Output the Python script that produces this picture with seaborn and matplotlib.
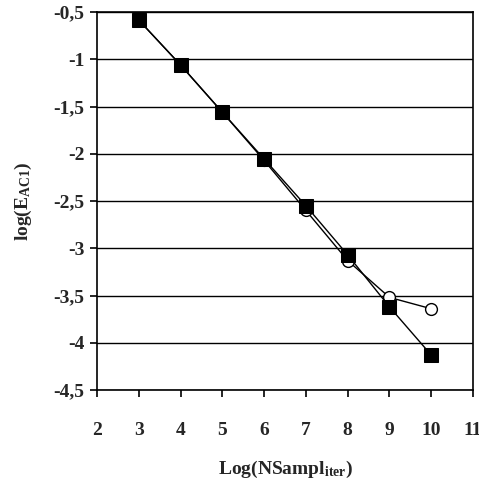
import matplotlib
matplotlib.use("Agg")
import matplotlib.pyplot as plt
import seaborn as sns
import pandas as pd

x_vals = [3, 4, 5, 6, 7, 8, 9, 10]
squares = [-0.585, -1.06, -1.56, -2.055, -2.55, -3.07, -3.62, -4.13]
circles = [-0.585, -1.06, -1.56, -2.07, -2.6, -3.13, -3.52, -3.64]
y_ticks = [-0.5, -1, -1.5, -2, -2.5, -3, -3.5, -4, -4.5]
x_ticks = [2, 3, 4, 5, 6, 7, 8, 9, 10, 11]

sns.set_theme(style="white")
plt.rcParams['font.family'] = ['Liberation Serif', 'DejaVu Serif']
plt.rcParams['font.weight'] = 'bold'
plt.rcParams['mathtext.fontset'] = 'custom'
plt.rcParams['mathtext.rm'] = 'Liberation Serif:bold'
plt.rcParams['mathtext.bf'] = 'Liberation Serif:bold'
plt.rcParams['mathtext.it'] = 'Liberation Serif:bold'

df_c = pd.DataFrame({"x": x_vals, "y": circles})
df_s = pd.DataFrame({"x": x_vals, "y": squares})

fig = plt.figure(figsize=(4.79, 4.79), dpi=100)
ax = fig.add_axes([0.2025, 0.1858, 0.785, 0.789])

for yt in y_ticks:
    ax.axhline(yt, color='black', lw=1.0, zorder=0)

sns.lineplot(data=df_c, x="x", y="y", ax=ax, color='black', lw=1.0,
             marker='o', markersize=8.5, markerfacecolor='white',
             markeredgecolor='black', markeredgewidth=1.0, zorder=2)
sns.lineplot(data=df_s, x="x", y="y", ax=ax, color='black', lw=1.0,
             marker='s', markersize=10.5, markerfacecolor='black',
             markeredgecolor='black', zorder=3)

ax.set_xlim(2, 11)
ax.set_ylim(-4.5, -0.5)
ax.set_xticks(x_ticks)
ax.set_yticks(y_ticks)
ax.set_xticklabels([str(v) for v in x_ticks], fontsize=14, fontweight='bold')
ax.set_yticklabels([("%g" % v).replace('.', ',') for v in y_ticks], fontsize=14, fontweight='bold')
ax.tick_params(axis='both', direction='out', length=5, width=1.2, color='black',
               bottom=True, left=True, pad=4)
ax.tick_params(axis='x', pad=18)
for s in ax.spines.values():
    s.set_color('black')
    s.set_linewidth(1.2)

ax.set_xlabel(r'Log(NSampl$_{\mathbf{iter}}$)', fontsize=14, fontweight='bold', labelpad=14)
ax.set_ylabel(r'log(E$_{\mathbf{AC1}}$)', fontsize=14, fontweight='bold', labelpad=14)

fig.savefig("out.png", dpi=100)
